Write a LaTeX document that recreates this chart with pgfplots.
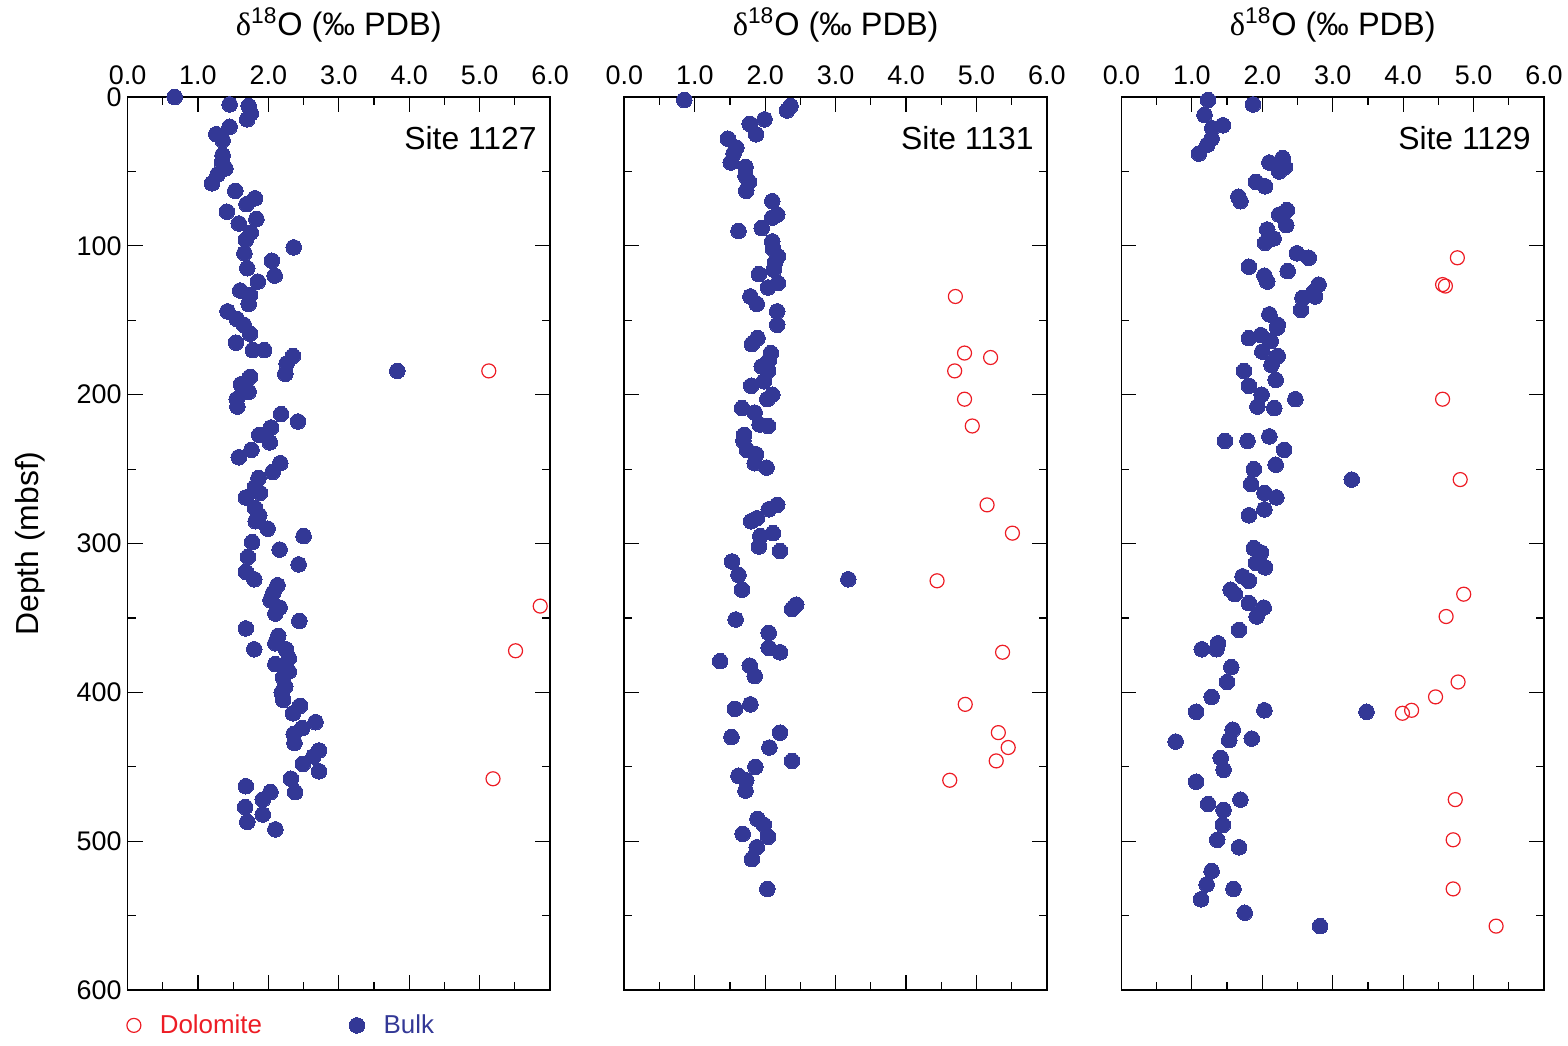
\documentclass[border=0pt]{standalone}
\usepackage{pgfplots}
\pgfplotsset{compat=1.18}
\usepackage{fontspec}
\setmainfont{Liberation Sans}
\newfontfamily\greekfont{Liberation Serif}
\definecolor{bulkblue}{RGB}{51,56,150}
\definecolor{dolred}{RGB}{237,28,36}

\pgfplotsset{
  panel/.style={
    scale only axis, width=211.25bp, height=446.5bp,
    xmin=0, xmax=6, ymin=0, ymax=600, y dir=reverse,
    xtick={0,1,...,6}, minor x tick num=1,
    ytick={0,100,...,600}, minor y tick num=1,
    xticklabel pos=upper,
    tick align=inside,
    major tick length=7.5bp, minor tick length=4bp,
    axis line style={line width=0.9bp},
    every tick/.style={black, line width=0.6bp},
    tick label style={font=\fontsize{13.5}{16}\selectfont},
    /pgf/number format/assume math mode=true,
    xticklabel style={yshift=2.5bp, /pgf/number format/.cd, fixed, fixed zerofill, precision=1},
    yticklabel style={xshift=0.5bp},
    title={{\greekfont δ}\textsuperscript{18}O (‰ PDB)},
    title style={at={(axis description cs:0.5,1)}, anchor=center, yshift=30bp,
      font=\fontsize{16.3}{19}\selectfont},
    clip=false,
  },
  bulk/.style={only marks, mark=*, mark size=3.9bp,
    mark options={draw=bulkblue, fill=bulkblue, line width=0pt}},
  dolo/.style={only marks, mark=o, mark size=3.5bp,
    mark options={draw=dolred, line width=0.6bp}},
}

\begin{document}
\begin{tikzpicture}
% Site 1127
\begin{axis}[panel,
    ylabel={Depth (mbsf)},
    ylabel style={at={(axis description cs:-0.2308,0.5)}, anchor=center,
      font=\fontsize{16}{19}\selectfont},
    legend columns=2,
    legend style={at={(axis description cs:0,0)}, anchor=north west,
      draw=none, fill=none, font=\fontsize{13}{15}\selectfont,
      /tikz/every odd column/.append style={column sep=7.5bp},
      /tikz/every even column/.append style={column sep=41.5bp},
      xshift=-3.5bp, yshift=-8bp},
  ]
\addplot[dolo] table {
x y
5.13 184
5.86 342
5.51 372
5.19 458
};
\addlegendentry{\textcolor{dolred}{Dolomite}}
\addplot[bulk] table {
x y
0.67 0
1.45 5
1.72 6
1.75 11
1.70 15
1.45 20
1.26 25
1.35 29
1.35 39
1.34 44
1.39 48
1.28 52
1.20 58
1.53 63
1.81 68
1.69 72
1.41 77
1.83 82
1.58 85
1.75 91
1.68 96
2.36 101
1.66 105
2.05 110
1.70 115
2.09 120
1.85 124
1.60 130
1.74 133
1.72 139
1.42 144
1.55 149
1.65 153
1.74 159
1.54 165
1.78 170
1.94 170
2.35 174
2.26 179
2.24 186
3.83 184
1.74 188
1.61 193
1.72 198
1.55 203
1.56 208
2.18 213
2.42 218
2.04 222
1.87 227
2.02 232
1.76 237
1.58 242
2.17 246
2.06 252
1.86 256
1.81 262
1.88 266
1.68 269
1.81 276
1.87 281
1.82 285
1.99 290
2.50 295
1.77 299
2.16 304
1.71 309
2.43 314
1.68 319
1.80 324
2.13 328
2.07 333
2.03 338
2.16 343
2.10 347
2.44 352
1.68 357
2.14 362
2.10 367
2.25 371
1.80 371
2.29 377
2.10 381
2.29 386
2.21 390
2.24 396
2.19 400
2.21 405
2.45 409
2.35 414
2.67 420
2.48 424
2.36 428
2.37 434
2.72 439
2.64 443
2.49 448
2.72 453
2.32 458
1.68 463
2.03 467
2.38 467
1.92 472
1.67 477
1.92 482
1.70 487
2.10 492
};
\addlegendentry{\textcolor{bulkblue}{Bulk}}
\node[anchor=east, font=\fontsize{16}{19}\selectfont] at (axis description cs:0.985,0.954) {Site 1127};
\end{axis}

% Site 1131
\begin{axis}[panel, at={(248.4bp,0)}, yticklabels={}]
\addplot[dolo] table {
x y
4.70 134
4.83 172
5.20 175
4.69 184
4.83 203
4.94 221
5.15 274
5.51 293
4.44 325
5.37 373
4.84 408
5.31 427
5.45 437
5.28 446
4.62 459
};
\addplot[bulk] table {
x y
0.85 2
2.36 6
2.31 9
1.99 15
1.78 18
1.87 25
1.47 28
1.59 34
1.55 38
1.51 44
1.72 47
1.72 53
1.77 57
1.73 63
2.10 70
2.17 79
2.10 81
1.95 88
1.62 90
2.10 97
2.11 102
2.18 107
2.14 111
2.12 116
1.91 119
2.18 125
2.04 128
1.79 134
1.88 139
2.17 144
2.17 153
1.89 162
1.81 166
2.08 172
2.05 177
1.95 181
2.04 184
1.98 191
1.80 194
2.10 200
2.03 203
1.67 209
1.85 212
1.92 220
2.04 221
1.70 227
1.69 231
1.74 237
1.87 240
1.85 246
2.02 249
2.17 274
2.05 277
1.88 283
1.80 285
2.11 293
1.93 295
1.91 302
2.21 305
1.53 312
1.62 321
1.67 331
3.18 324
2.44 341
2.38 344
1.58 351
2.05 360
2.05 370
2.21 373
1.36 379
1.78 382
1.85 389
1.79 408
1.57 411
2.21 427
1.52 430
2.06 437
2.38 446
1.86 450
1.62 456
1.73 459
1.72 466
1.89 485
1.98 489
1.68 495
2.04 497
1.88 504
1.81 512
2.03 532
};
\node[anchor=east, font=\fontsize{16}{19}\selectfont] at (axis description cs:0.985,0.954) {Site 1131};
\end{axis}

% Site 1129
\begin{axis}[panel, at={(496.9bp,0)}, yticklabels={}]
\addplot[dolo] table {
x y
4.77 108
4.56 126
4.60 127
4.56 203
4.81 257
4.86 334
4.61 349
4.78 393
4.46 403
3.99 414
4.12 412
4.74 472
4.71 499
4.71 532
5.32 557
};
\addplot[bulk] table {
x y
1.23 2
1.87 5
1.18 12
1.44 19
1.29 21
1.28 28
1.22 32
1.10 38
2.29 41
2.10 44
2.32 47
2.24 50
1.91 57
2.04 60
1.66 67
1.69 70
2.35 76
2.24 79
2.34 86
2.07 89
2.16 95
2.04 98
2.49 105
2.66 108
1.81 114
2.36 117
2.03 120
2.07 124
2.80 126
2.73 131
2.75 134
2.57 135
2.55 143
2.10 146
2.22 153
2.21 155
1.98 160
1.81 162
2.12 164
2.00 171
2.22 174
2.13 180
1.74 184
2.19 190
1.81 194
1.99 200
2.47 203
1.93 208
2.17 209
1.47 231
1.79 231
2.10 228
2.31 237
2.19 247
1.88 250
3.27 257
1.84 260
2.03 266
2.20 269
2.03 277
1.81 281
1.88 303
1.98 306
1.91 313
2.04 316
1.72 322
1.81 325
1.55 331
1.61 334
1.81 340
2.02 343
1.92 349
1.67 358
1.37 367
1.14 371
1.35 371
1.56 383
1.50 393
1.28 403
1.06 413
2.03 412
3.48 413
1.58 425
1.53 432
1.85 431
0.77 433
1.41 444
1.45 452
1.06 460
1.69 472
1.23 475
1.45 479
1.44 489
1.36 499
1.67 504
1.28 520
1.21 529
1.59 532
1.13 539
1.75 548
2.82 557
};
\node[anchor=east, font=\fontsize{16}{19}\selectfont] at (axis description cs:0.985,0.954) {Site 1129};
\end{axis}
\pgfresetboundingbox
\path[use as bounding box] (-63.75bp,-27.5bp) rectangle (720.15bp,495bp);
\end{tikzpicture}
\end{document}
